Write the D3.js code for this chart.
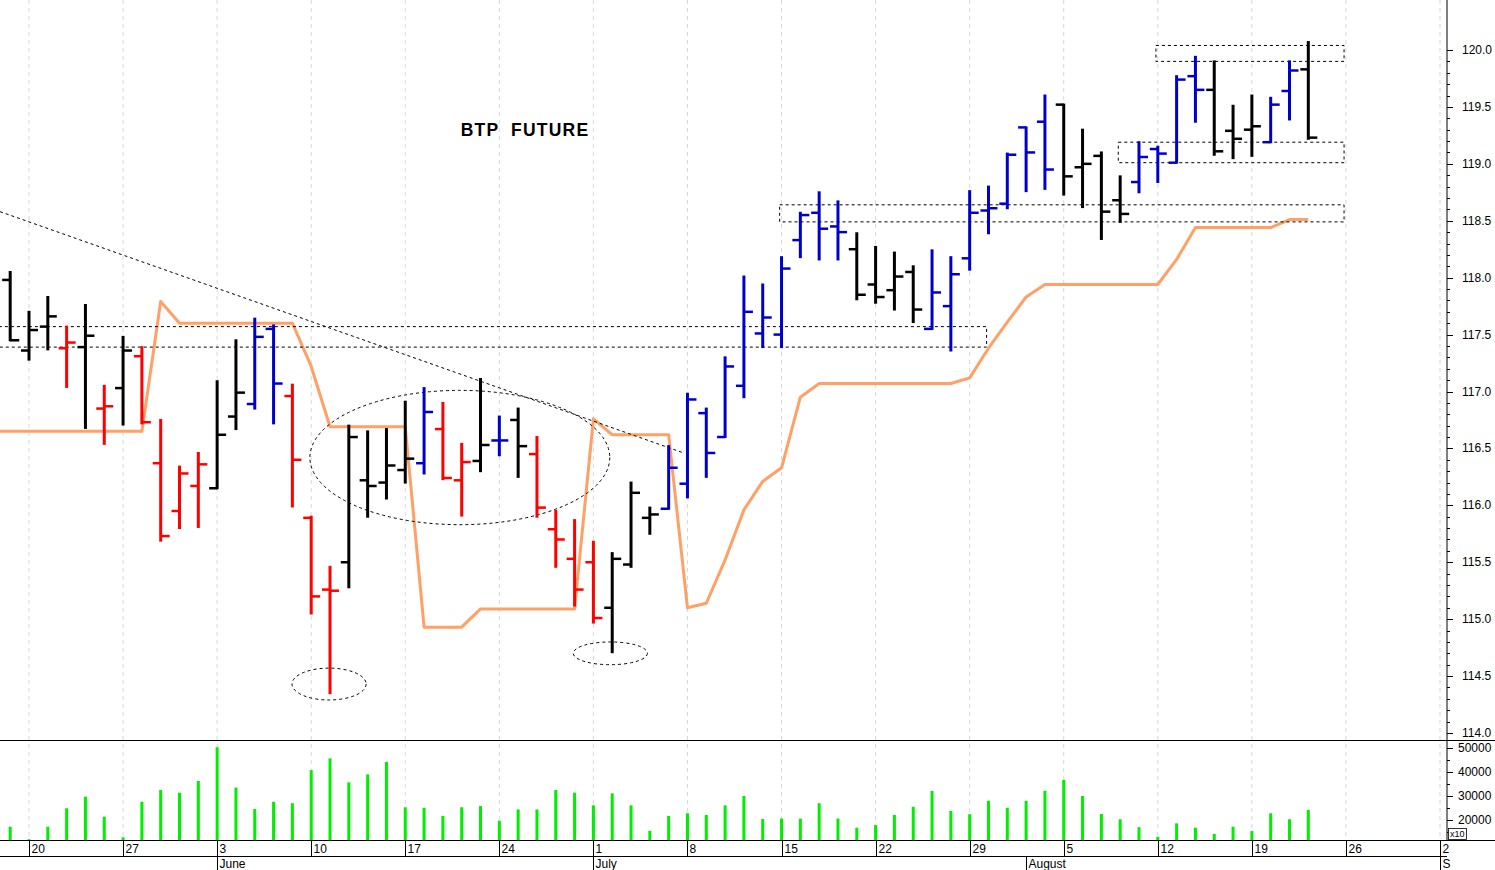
<!DOCTYPE html>
<html><head><meta charset="utf-8">
<script src="https://cdn.jsdelivr.net/npm/d3@7"></script>
<style>body{margin:0;background:#fff}svg{display:block}text{font-family:"Liberation Sans",Arial,sans-serif}</style>
</head><body><svg id="c" width="1495" height="870"></svg>
<script>
// trading-day index (0 = Mon 20 May)
const startIdx = -1;
const highs = [118.05,117.70,117.83,117.57,117.76,117.05,117.48,117.39,116.75,116.34,116.46,117.09,117.45,117.64,117.58,117.06,115.90,115.46,116.70,116.65,116.67,116.91,117.03,116.90,116.54,117.11,116.78,116.85,116.60,115.95,115.87,115.68,115.58,116.20,115.98,116.52,116.98,116.85,117.30,118.01,117.94,118.18,118.57,118.75,118.67,118.39,118.27,118.22,118.10,118.24,118.18,118.76,118.80,119.09,119.32,119.60,119.52,119.30,119.10,118.89,119.19,119.15,119.77,119.94,119.90,119.51,119.60,119.58,119.90,120.07];
const lows = [117.45,117.28,117.37,117.04,116.68,116.54,116.71,116.72,115.69,115.80,115.81,116.15,116.67,116.85,116.72,115.99,115.05,114.35,115.28,115.90,116.06,116.20,116.28,116.23,115.91,116.30,116.44,116.25,115.90,115.46,115.12,114.97,114.71,115.46,115.75,115.97,116.07,116.25,116.60,116.95,117.39,117.39,118.18,118.16,118.16,117.81,117.78,117.72,117.61,117.55,117.36,118.07,118.39,118.61,118.76,118.78,118.73,118.62,118.34,118.49,118.75,118.84,119.01,119.37,119.08,119.05,119.07,119.19,119.39,119.22];
const opens = [117.98,117.36,117.57,117.38,117.39,116.85,117.03,117.31,116.37,115.95,116.17,116.15,116.78,116.89,117.55,116.96,115.89,115.26,115.50,116.22,116.20,116.31,116.37,116.67,116.22,116.39,116.57,116.75,116.45,115.79,115.53,115.50,115.10,115.48,115.89,115.97,116.19,116.81,116.60,117.05,117.51,117.50,118.33,118.57,118.45,118.25,117.94,117.89,118.05,117.55,117.75,118.17,118.59,118.65,119.32,119.37,119.52,118.97,119.07,118.68,118.84,119.13,119.01,119.77,119.65,119.29,119.30,119.19,119.64,119.83];
const closes = [117.45,117.54,117.66,117.43,117.49,116.87,117.36,116.73,115.73,116.28,116.36,116.62,116.99,117.48,117.07,116.40,115.20,115.25,116.60,116.17,116.35,116.41,116.82,116.24,116.38,116.53,116.57,116.52,115.98,115.70,115.26,115.01,115.53,116.11,115.92,116.33,116.93,116.46,117.22,117.70,117.65,118.08,118.55,118.43,118.40,117.85,117.83,118.01,117.72,117.87,118.03,118.57,118.61,119.08,119.10,118.95,118.89,119.00,118.58,118.56,119.06,119.09,119.74,119.65,119.11,119.22,119.33,119.52,119.82,119.23];
const barColors = "kkkrkrkrrrrkkbbrrrkkkkbrrkbkrrrrkkkbbbbbbbbbbkkkkbbbbbbbkkkkbbbbkkkbbk";
// stop line starts one day earlier (index -2)
const stopStart = -2;
const stopLine = [116.65,116.65,116.65,116.65,116.65,116.65,116.65,116.65,116.65,117.79,117.60,117.60,117.60,117.60,117.60,117.60,117.60,117.22,116.69,116.69,116.69,116.69,116.69,114.93,114.93,114.93,115.09,115.09,115.09,115.09,115.09,115.09,116.76,116.62,116.62,116.62,116.62,115.10,115.14,115.52,115.96,116.21,116.33,116.95,117.07,117.07,117.07,117.07,117.07,117.07,117.07,117.07,117.12,117.38,117.61,117.83,117.94,117.94,117.94,117.94,117.94,117.94,117.94,118.16,118.44,118.44,118.44,118.44,118.44,118.51,118.51];
const volumes = [17200,12000,17200,24900,29700,21400,12800,27600,32500,31400,36250,50300,33500,24600,27600,27000,40800,45700,35700,39000,44200,25300,25100,21700,25300,25800,19700,24400,24400,32500,31400,26100,31100,26100,15500,21700,22800,22100,26100,30000,20400,20600,20600,27000,20600,16800,17900,22100,25500,32100,23750,22400,28000,25100,28000,32200,36700,30000,22500,20300,17000,13000,18600,16800,14200,17200,15400,22800,20300,24200];
const dayIdx = [0,5,10,15,20,25,30,35,40,45,50,55,60,65,70,75];
const dayLabels = ["20","27","3","10","17","24","1","8","15","22","29","5","12","19","26","2"];
const monthIdx = [10,30,53,75];
const monthLabels = ["June","July","August","S"];
const priceTicks = [114.0,114.5,115.0,115.5,116.0,116.5,117.0,117.5,118.0,118.5,119.0,119.5,120.0];
const volTicks = [20000,30000,40000,50000];
// annotations: [idx0, idx1, priceLow, priceHigh]
const zones = [[-1.6,50.9,117.39,117.57],[39.9,69.9,118.49,118.64],[57.9,69.9,119.01,119.19],[59.9,69.9,119.90,120.04]];
// ellipses: [centerIdx, centerPrice, idxRadius, priceRadius]
const ellipses = [[22.9,116.42,7.97,0.59],[15.95,114.43,1.97,0.14],[30.9,114.70,1.97,0.10]];
const trend = [[-1.54,118.58],[34.8,116.46]];

const svg = d3.select("#c");
const x = d3.scaleLinear().domain([0,75]).range([29,1440]);
const y = d3.scaleLinear().domain([114,120]).range([733,50]);
const yv = d3.scaleLinear().domain([11667,50000]).range([840,748]);
const AX = 1447;
const col = {k:"#000000", r:"#ff0000", b:"#0000cc"};

svg.append("clipPath").attr("id","pc").append("rect").attr("x",0).attr("y",0).attr("width",AX).attr("height",740);

svg.append("g").selectAll("line").data(dayIdx).join("line")
  .attr("x1",d=>x(d)).attr("x2",d=>x(d)).attr("y1",0).attr("y2",840)
  .attr("stroke","#d8d8d8").attr("stroke-dasharray","4,4").attr("stroke-width",1);

const pg = svg.append("g").attr("clip-path","url(#pc)");
const idx = i => startIdx + i;

pg.append("path").datum(stopLine)
  .attr("d", d3.line().x((d,i)=>x(stopStart+i)).y(d=>y(d)))
  .attr("fill","none").attr("stroke","#ffa066").attr("stroke-width",3).attr("stroke-linejoin","round");

pg.append("line").attr("x1",x(trend[0][0])).attr("y1",y(trend[0][1])).attr("x2",x(trend[1][0])).attr("y2",y(trend[1][1]))
  .attr("stroke","#000").attr("stroke-width",1).attr("stroke-dasharray","3,3");

pg.selectAll("rect.z").data(zones).join("rect").attr("class","z")
  .attr("x",d=>x(d[0])).attr("width",d=>x(d[1])-x(d[0]))
  .attr("y",d=>y(d[3])).attr("height",d=>y(d[2])-y(d[3]))
  .attr("fill","none").attr("stroke","#000").attr("stroke-width",1).attr("stroke-dasharray","3,3");

pg.selectAll("ellipse").data(ellipses).join("ellipse")
  .attr("cx",d=>x(d[0])).attr("cy",d=>y(d[1]))
  .attr("rx",d=>x(d[2])-x(0)).attr("ry",d=>y(114)-y(114+d[3]))
  .attr("fill","none").attr("stroke","#000").attr("stroke-width",1).attr("stroke-dasharray","3,3");

const bars = pg.append("g");
highs.forEach((h,i)=>{
  const cx = x(idx(i)), c = col[barColors[i]];
  bars.append("line").attr("x1",cx).attr("x2",cx).attr("y1",y(h)-1).attr("y2",y(lows[i])+1).attr("stroke",c).attr("stroke-width",3);
  bars.append("line").attr("x1",cx-8).attr("x2",cx).attr("y1",y(opens[i])).attr("y2",y(opens[i])).attr("stroke",c).attr("stroke-width",2.5);
  bars.append("line").attr("x1",cx).attr("x2",cx+9).attr("y1",y(closes[i])).attr("y2",y(closes[i])).attr("stroke",c).attr("stroke-width",2.5);
});

svg.append("text").attr("x",525).attr("y",136).attr("text-anchor","middle").style("white-space","pre")
  .attr("font-size",17.5).attr("font-weight","bold").attr("letter-spacing",1.2).text("BTP  FUTURE");

svg.append("g").selectAll("line").data(volumes).join("line")
  .attr("x1",(d,i)=>x(idx(i))).attr("x2",(d,i)=>x(idx(i)))
  .attr("y1",840).attr("y2",d=>yv(d)).attr("stroke","#00ee00").attr("stroke-width",3);

svg.append("line").attr("x1",AX).attr("x2",AX).attr("y1",0).attr("y2",840).attr("stroke","#000");
svg.append("line").attr("x1",0).attr("x2",1495).attr("y1",740.5).attr("y2",740.5).attr("stroke","#000");
svg.append("line").attr("x1",0).attr("x2",1495).attr("y1",840.5).attr("y2",840.5).attr("stroke","#000");
svg.append("line").attr("x1",0).attr("x2",1447).attr("y1",856.5).attr("y2",856.5).attr("stroke","#000");

const minorP = d3.range(114,120.05,0.1);
svg.append("g").selectAll("line").data(minorP).join("line")
  .attr("x1",AX).attr("x2",AX+3).attr("y1",d=>Math.round(y(d))+0.5).attr("y2",d=>Math.round(y(d))+0.5).attr("stroke","#000");
svg.append("g").selectAll("line").data(priceTicks).join("line")
  .attr("x1",AX).attr("x2",AX+6).attr("y1",d=>Math.round(y(d))+0.5).attr("y2",d=>Math.round(y(d))+0.5).attr("stroke","#000");
svg.append("g").selectAll("text").data(priceTicks).join("text")
  .attr("x",1462).attr("y",d=>y(d)+4).attr("font-size",12).text(d=>d.toFixed(1));

svg.append("g").selectAll("line").data(d3.range(15000,50001,5000)).join("line")
  .attr("x1",AX).attr("x2",d=>AX+(d%10000===0?6:3)).attr("y1",d=>Math.round(yv(d))+0.5).attr("y2",d=>Math.round(yv(d))+0.5).attr("stroke","#000");
svg.append("g").selectAll("text").data(volTicks).join("text")
  .attr("x",1458).attr("y",d=>yv(d)+4).attr("font-size",12).text(d=>d);
svg.append("rect").attr("x",1448.5).attr("y",828.5).attr("width",18).attr("height",11).attr("fill","#fff").attr("stroke","#000").attr("stroke-width",0.8);
svg.append("text").attr("x",1450).attr("y",837).attr("font-size",9).text("x10");

const dg = svg.append("g");
dayIdx.forEach((d,i)=>{
  const px = Math.round(x(d))+0.5;
  dg.append("line").attr("x1",px).attr("x2",px).attr("y1",840).attr("y2",856).attr("stroke","#000");
  dg.append("text").attr("x",px+2).attr("y",853).attr("font-size",12).text(dayLabels[i]);
});
monthIdx.forEach((d,i)=>{
  const px = Math.round(x(d))+0.5;
  dg.append("line").attr("x1",px).attr("x2",px).attr("y1",856).attr("y2",870).attr("stroke","#000");
  dg.append("text").attr("x",px+2).attr("y",868).attr("font-size",12).text(monthLabels[i]);
});
</script></body></html>
